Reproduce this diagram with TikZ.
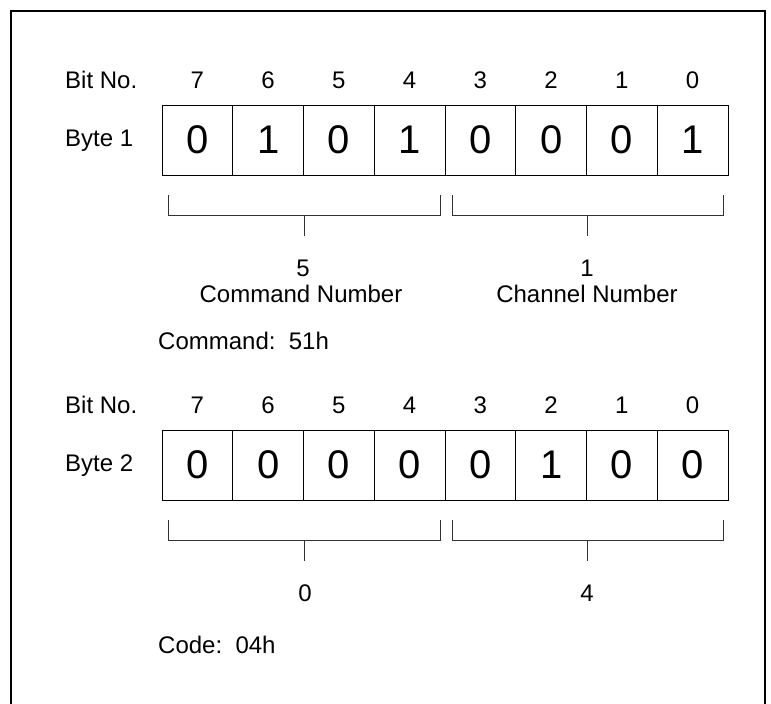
\documentclass[tikz,border=0pt]{standalone}
\usepackage{fontspec}
\setmainfont{Liberation Sans}
\begin{document}
\begin{tikzpicture}[x=1pt,y=-1pt,
  lbl/.style={font=\fontsize{24}{28}\selectfont, inner sep=0pt, anchor=base},
  cell/.style={draw, line width=0.8pt, minimum width=70.75pt, minimum height=70pt, inner sep=0pt, font=\fontsize{40}{44}\selectfont},
  brk/.style={line width=0.8pt, draw=black!80},
  frameline/.style={line width=2pt}]
\useasboundingbox (0,0) rectangle (771,704);
\draw[frameline] (11,704) -- (11,11) -- (765,11) -- (765,704);

% ---------- Byte 1 ----------
\node[lbl, anchor=base west] (bitno1) at (65,88.5) {Bit No.};
\node[lbl, anchor=base west] (byte1) at (65,146) {Byte 1};
\foreach \v [count=\k from 0] in {0,1,0,1,0,0,0,1} {
  \pgfmathsetmacro{\cx}{162+70.75*(\k+0.5)}
  \pgfmathtruncatemacro{\b}{7-\k}
  \node[cell] (a\k) at (\cx,140) {\v};
  \node[lbl] (na\k) at (\cx,88.5) {\b};
}
\draw[brk] (168,195) -- (168,215) -- (440,215) -- (440,195);
\draw[brk] (304,215) -- (304,236);
\draw[brk] (452,195) -- (452,215) -- (723,215) -- (723,195);
\draw[brk] (587,215) -- (587,236);
\node[lbl] (v5) at (303,276) {5};
\node[lbl] (cmdnum) at (301,302) {Command Number};
\node[lbl] (v1) at (587,276) {1};
\node[lbl] (chnum) at (587,302) {Channel Number};
\node[lbl, anchor=base west] (cmd) at (158,349) {Command:\ \ 51h};

% ---------- Byte 2 ----------
\node[lbl, anchor=base west] (bitno2) at (65,413.5) {Bit No.};
\node[lbl, anchor=base west] (byte2) at (65,471) {Byte 2};
\foreach \v [count=\k from 0] in {0,0,0,0,0,1,0,0} {
  \pgfmathsetmacro{\cx}{162+70.75*(\k+0.5)}
  \pgfmathtruncatemacro{\b}{7-\k}
  \node[cell] (b\k) at (\cx,465) {\v};
  \node[lbl] (nb\k) at (\cx,413.5) {\b};
}
\draw[brk] (168,520) -- (168,540) -- (440,540) -- (440,520);
\draw[brk] (304,540) -- (304,561);
\draw[brk] (452,520) -- (452,540) -- (723,540) -- (723,520);
\draw[brk] (587,540) -- (587,561);
\node[lbl] (v0) at (305,601) {0};
\node[lbl] (v4) at (587,601) {4};
\node[lbl, anchor=base west] (code) at (158,653.5) {Code:\ \ 04h};
\end{tikzpicture}
\end{document}
